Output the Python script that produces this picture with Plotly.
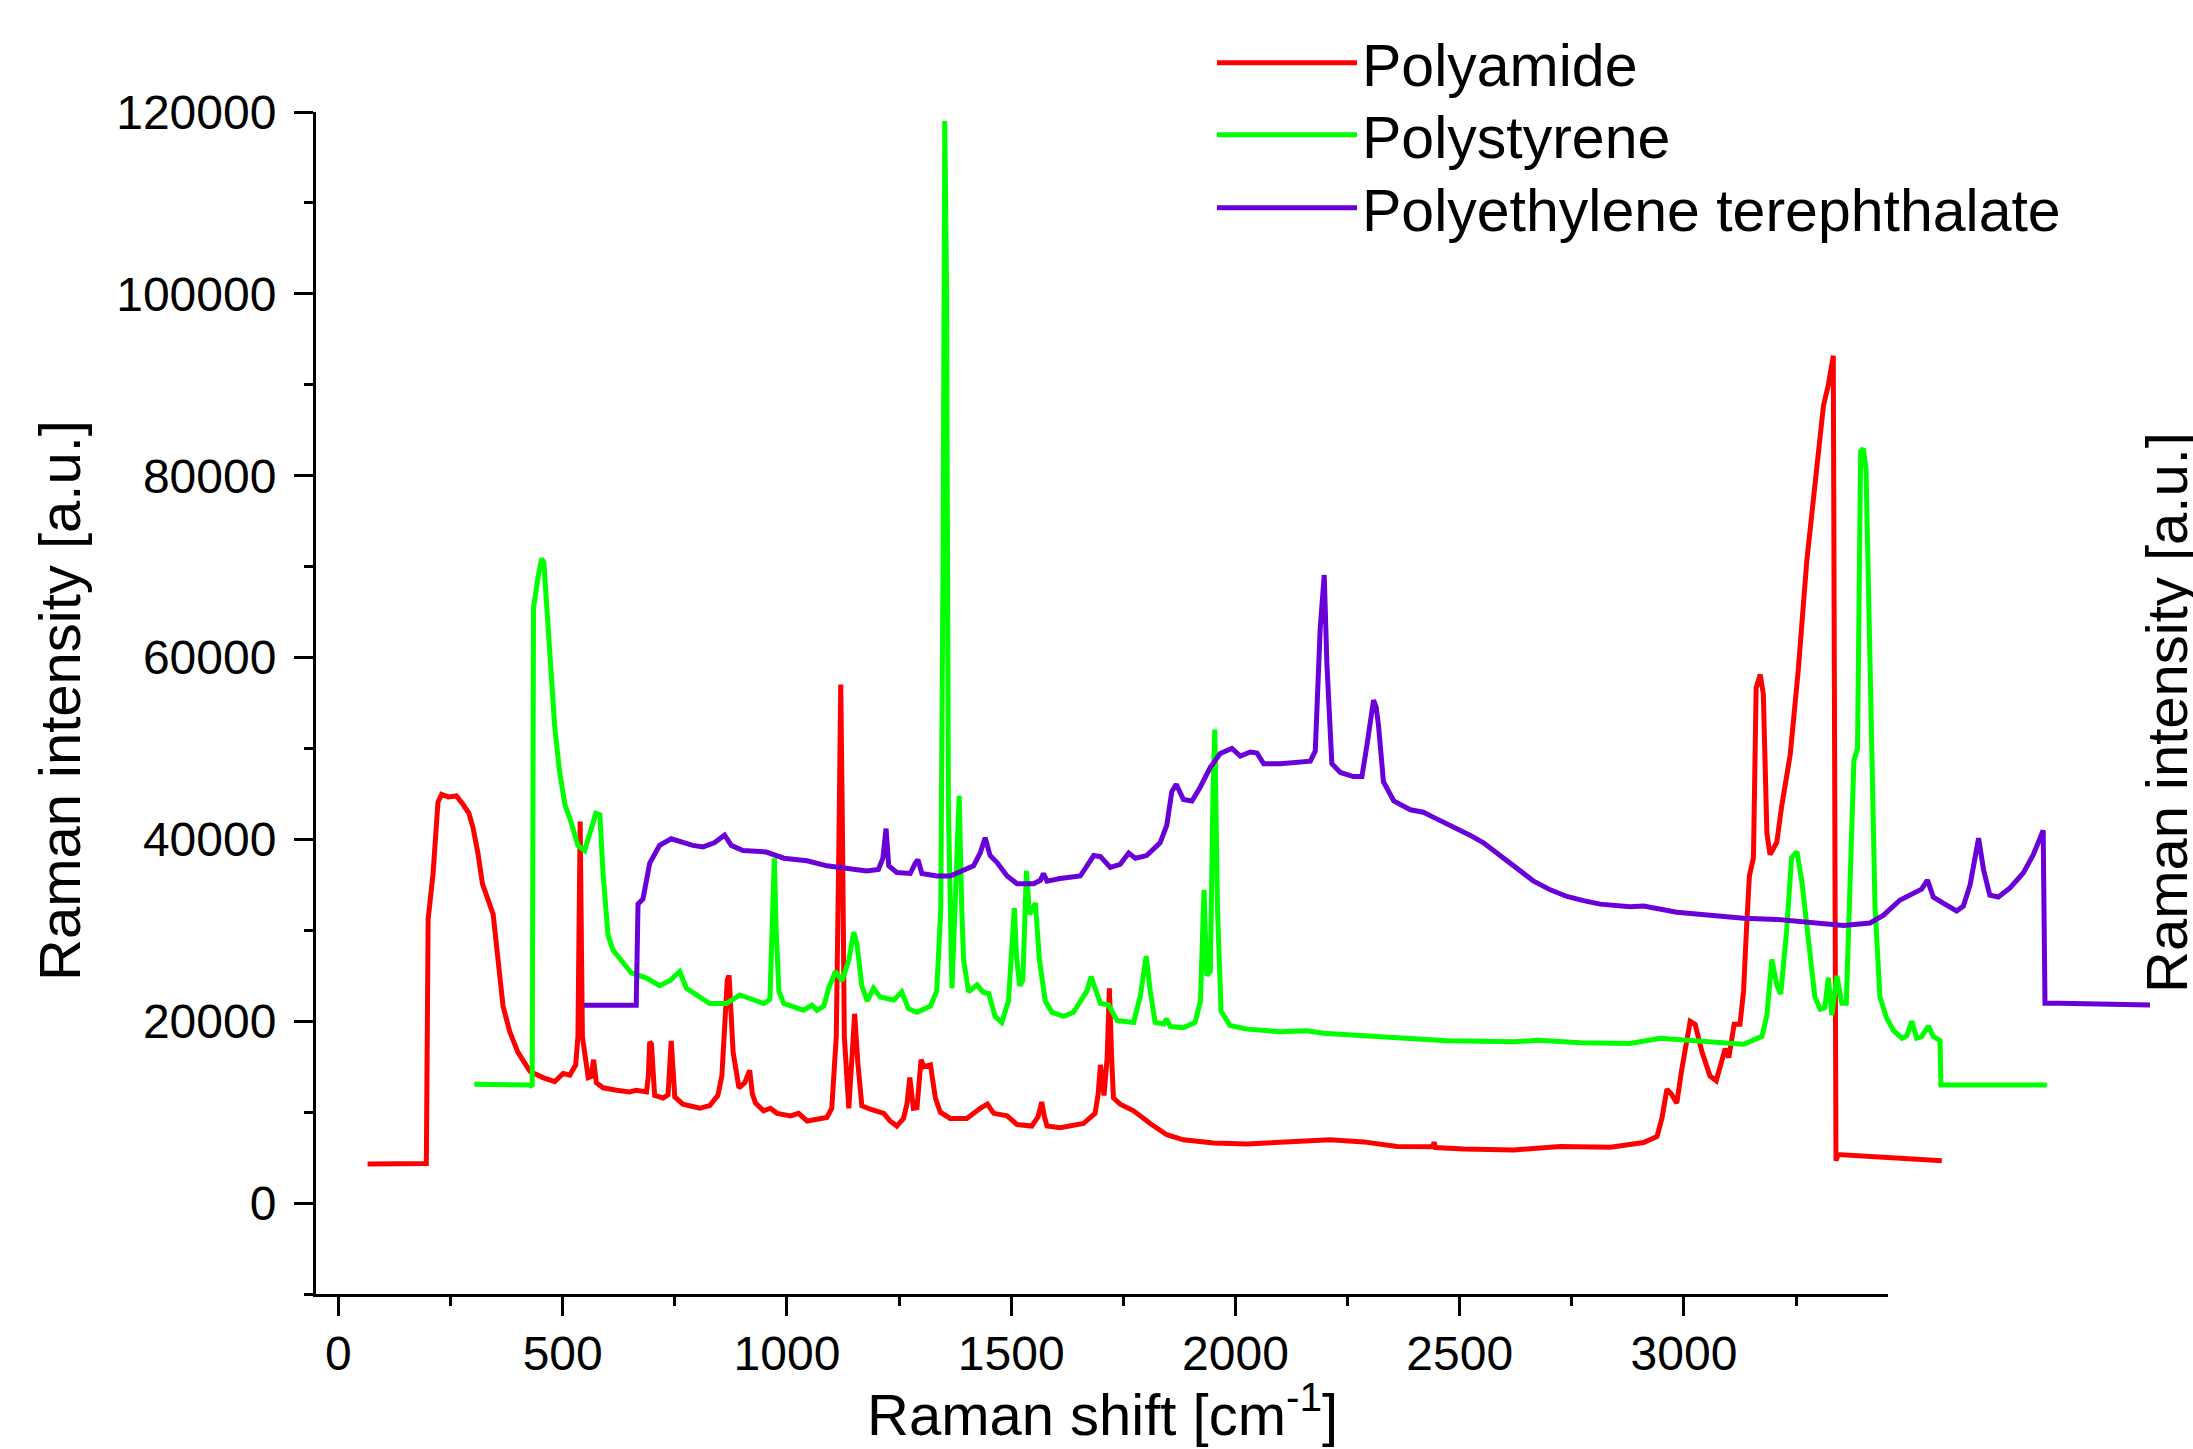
import plotly.graph_objects as go

# ---------------- data ----------------
series_names = ["Polyamide", "Polystyrene", "Polyethylene terephthalate"]
series_colors = ["#FF0000", "#00FF00", "#6A00D8"]

polyamide_x = [65, 130, 196, 200, 211, 222, 230, 245, 263, 278, 291, 300, 311, 321, 334, 345, 356, 367, 382, 400,
               427, 456, 482, 501, 516, 529, 534, 539, 544, 549, 557, 563, 569, 575, 590, 620, 649, 664, 687, 691,
               694, 698, 702, 705, 724, 735, 742, 746, 750, 768, 806, 828, 846, 855, 861, 867, 871, 876, 880, 893,
               906, 917, 923, 930, 948, 963, 978, 1008, 1026, 1045, 1089, 1100, 1110, 1116, 1120, 1124, 1128, 1138,
               1145, 1151, 1158, 1167, 1186, 1216, 1230, 1245, 1260, 1268, 1274, 1282, 1290, 1299, 1306, 1320, 1331,
               1342, 1364, 1401, 1431, 1447, 1461, 1491, 1513, 1546, 1560, 1568, 1574, 1580, 1609, 1661, 1687, 1694,
               1699, 1707, 1714, 1719, 1724, 1728, 1743, 1773, 1810, 1847, 1884, 1921, 1951, 2026, 2100, 2211, 2286,
               2360, 2440, 2443, 2446, 2509, 2620, 2724, 2836, 2910, 2940, 2951, 2962, 2972, 2984, 2995, 3014, 3025,
               3040, 3058, 3072, 3084, 3092, 3100, 3112, 3125, 3133, 3140, 3146, 3155, 3161, 3170, 3177, 3185, 3192,
               3207, 3218, 3237, 3255, 3274, 3289, 3300, 3311, 3322, 3333, 3339, 3344, 3575]
polyamide_y = [4300, 4350, 4350, 31200, 36250, 44100, 44950, 44670, 44780, 43830, 42870, 41300, 38500, 35130, 33330,
               31760, 26710, 21660, 18850, 16610, 14480, 13800, 13350, 14250, 14080, 15200, 18290, 41970, 18290, 16160,
               13800, 13900, 15770, 13240, 12680, 12400, 12230, 12400, 12230, 14000, 17730, 17500, 13000, 11840, 11560,
               11900, 17840, 15000, 11670, 10880, 10430, 10720, 11840, 14000, 18290, 24500, 25030, 20000, 16610, 12680,
               13240, 14600, 12000, 10990, 10150, 10430, 9870, 9590, 9870, 9030, 9420, 10430, 18290, 40000, 57020,
               40000, 18290, 10430, 15480, 20820, 15480, 10710, 10320, 9870, 9030, 8470, 9310, 11000, 13800, 10430,
               10500, 15770, 15000, 15200, 11560, 9990, 9310, 9310, 10430, 10880, 9870, 9590, 8640, 8470, 9500, 11110,
               9500, 8470, 8300, 8750, 9870, 12000, 15200, 11840, 16000, 23620, 16000, 11560, 10880, 10150, 8750, 7520,
               6960, 6790, 6620, 6510, 6730, 6960, 6730, 6230, 6200, 6700, 6100, 5950, 5840, 6230, 6130, 6660, 7330,
               9330, 12530, 12000, 10990, 14660, 19990, 19660, 16660, 13990, 13460, 15330, 16990, 16000, 19660, 19660,
               23330, 30660, 35990, 37990, 56660, 58130, 55990, 40660, 38330, 39660, 43660, 49330, 58660, 70660, 77330,
               81990, 87660, 89990, 93200, 4660, 5330, 4660]

polystyrene_x = [303, 427, 432, 435, 445, 453, 458, 467, 475, 482, 493, 505, 519, 534, 549, 560, 574, 583, 590, 601,
                 612, 635, 653, 687, 716, 739, 761, 776, 798, 828, 865, 895, 917, 948, 962, 968, 972, 976, 982, 993,
                 1037, 1056, 1067, 1082, 1093, 1108, 1123, 1138, 1149, 1156, 1167, 1179, 1193, 1208, 1238, 1256, 1271,
                 1290, 1320, 1334, 1343, 1348, 1352, 1356, 1360, 1368, 1376, 1384, 1390, 1394, 1405, 1424, 1437, 1450,
                 1464, 1479, 1494, 1502, 1507, 1512, 1519, 1526, 1534, 1541, 1554, 1563, 1576, 1591, 1617, 1639, 1654,
                 1669, 1678, 1688, 1699, 1717, 1736, 1773, 1788, 1801, 1810, 1821, 1840, 1846, 1855, 1884, 1910, 1922,
                 1930, 1936, 1944, 1950, 1954, 1960, 1968, 1988, 2026, 2100, 2159, 2196, 2323, 2471, 2620, 2675, 2769,
                 2880, 2947, 3021, 3096, 3133, 3174, 3185, 3196, 3207, 3216, 3229, 3240, 3252, 3263, 3278, 3292, 3304,
                 3314, 3322, 3330, 3341, 3352, 3362, 3370, 3379, 3387, 3394, 3400, 3406, 3415, 3426, 3437, 3452, 3467,
                 3486, 3497, 3508, 3519, 3530, 3545, 3556, 3571, 3573, 3809]
polystyrene_y = [13070, 13000, 12800, 65430, 68800, 70880, 70500, 64310, 57580, 52530, 47470, 43830, 41860, 39340,
                 38780, 40740, 42870, 42700, 36250, 29520, 27830, 26430, 25310, 24750, 23900, 24460, 25470, 23620,
                 22890, 21940, 21940, 22890, 22500, 21940, 22400, 30000, 37930, 30000, 23340, 21940, 21210, 21770,
                 21210, 21660, 23620, 25470, 24460, 26710, 29800, 28500, 23900, 22220, 23620, 22660, 22330, 23230,
                 21380, 20980, 21660, 23340, 32320, 70000, 119000, 100000, 43540, 23620, 33000, 44780, 32000, 26710,
                 23230, 24010, 23200, 23060, 20540, 19870, 22220, 28000, 32430, 27000, 23900, 24500, 36530, 31760,
                 33000, 26710, 22220, 20980, 20540, 20980, 22220, 23340, 24910, 23400, 21940, 21800, 20090, 19870,
                 22780, 27160, 23340, 19870, 19690, 20260, 19410, 19300, 19870, 22220, 34450, 25030, 25500, 45000,
                 52080, 32320, 21100, 19530, 19130, 18850, 18960, 18690, 18290, 17840, 17730, 17900, 17620, 17560,
                 18130, 17860, 17660, 17460, 18330, 20660, 26790, 23990, 22990, 29990, 37990, 38660, 35330, 29330,
                 22660, 21330, 21500, 24790, 20660, 24990, 21990, 21990, 35990, 48660, 49990, 82660, 82990, 80660,
                 59330, 32660, 22660, 20330, 18990, 18130, 18400, 19990, 18130, 18300, 19460, 18330, 17860, 12990,
                 12990]

pet_x = [547, 664, 668, 679, 694, 716, 742, 768, 790, 813, 838, 861, 876, 902, 954, 993, 1045, 1089, 1141, 1178, 1204,
         1214, 1221, 1227, 1245, 1275, 1286, 1292, 1301, 1334, 1364, 1394, 1416, 1431, 1442, 1453, 1468, 1491, 1513,
         1550, 1565, 1572, 1580, 1609, 1654, 1669, 1684, 1699, 1721, 1743, 1762, 1777, 1802, 1832, 1847, 1858, 1868,
         1884, 1903, 1922, 1944, 1966, 1992, 2011, 2033, 2048, 2063, 2100, 2167, 2178, 2189, 2198, 2204, 2215, 2234,
         2263, 2282, 2293, 2302, 2308, 2314, 2319, 2330, 2353, 2390, 2419, 2442, 2479, 2523, 2553, 2590, 2627, 2665,
         2702, 2739, 2776, 2813, 2880, 2910, 2984, 3058, 3133, 3207, 3281, 3356, 3415, 3445, 3482, 3512, 3530, 3543,
         3556, 3578, 3608, 3623, 3638, 3657, 3668, 3682, 3701, 3727, 3757, 3779, 3801, 3805, 3838, 4039]
pet_y = [21770, 21770, 32880, 33440, 37370, 39340, 40070, 39620, 39340, 39170, 39620, 40460, 39340, 38780, 38610,
         37930, 37650, 37090, 36810, 36530, 36700, 37930, 41190, 37090, 36360, 36250, 37370, 37770, 36250, 35970,
         35970, 36700, 37090, 38500, 40180, 38220, 37480, 35970, 35130, 35130, 35500, 36250, 35410, 35690, 35970,
         37090, 38220, 38100, 36920, 37260, 38500, 37930, 38220, 39620, 41580, 45230, 46070, 44390, 44220, 45790,
         47920, 49440, 50000, 49160, 49610, 49500, 48320, 48320, 48600, 49720, 63190, 69080, 59260, 48320, 47360,
         46910, 46910, 50280, 54000, 55330, 54500, 52530, 46350, 44220, 43260, 42990, 42420, 41580, 40460, 39620,
         38220, 36810, 35410, 34450, 33720, 33270, 32880, 32600, 32660, 31990, 31660, 31330, 31200, 30800, 30530,
         30800, 31660, 33330, 34130, 34530, 35530, 33660, 32990, 32130, 32660, 34990, 40130, 36660, 33860, 33660,
         34660, 36330, 38330, 40990, 21990, 21990, 21790]

x_major_ticks = [0, 500, 1000, 1500, 2000, 2500, 3000]
x_minor_ticks = [250, 750, 1250, 1750, 2250, 2750, 3250]
y_major_ticks = [0, 20000, 40000, 60000, 80000, 100000, 120000]
y_minor_ticks = [-10000, 10000, 30000, 50000, 70000, 90000, 110000]
x_title = "Raman shift [cm<sup>-1</sup>]"
y_title = "Raman intensity [a.u.]"

# ---------------- layout geometry ----------------
W, H = 2193, 1449
AX_L, AX_R, AX_T, AX_B = 316, 1888, 112, 1294
x_range = [-50, 3455]
y_range = [-10000, 120000]
px_per_unit = (AX_R - AX_L) / (x_range[1] - x_range[0])
x2_range = [x_range[0], x_range[0] + (W - AX_L) / px_per_unit]

FONT = "Liberation Sans, Arial, sans-serif"
legend_rows_px = [63, 135, 208]
legend_keys = ["legend", "legend2", "legend3"]

fig = go.Figure()
# empty trace on the visible axes so that the x axis is drawn
fig.add_trace(go.Scatter(x=[None], y=[None], xaxis="x", yaxis="y", showlegend=False,
                         hoverinfo="skip", mode="lines"))
for name, color, xs, ys, lg in zip(series_names, series_colors,
                                   [polyamide_x, polystyrene_x, pet_x],
                                   [polyamide_y, polystyrene_y, pet_y], legend_keys):
    fig.add_trace(go.Scatter(x=xs, y=ys, mode="lines", name=name,
                             line=dict(color=color, width=5),
                             xaxis="x2", yaxis="y", hoverinfo="skip", legend=lg))

axis_common = dict(showgrid=False, zeroline=False, showline=True, linecolor="black", linewidth=3,
                   ticks="outside", ticklen=19, tickwidth=3, tickcolor="black",
                   tickfont=dict(family=FONT, size=48, color="black"), automargin=False)

legend_layout = {}
for lg, ypx in zip(legend_keys, legend_rows_px):
    legend_layout[lg] = dict(x=1212 / W, y=1 - ypx / H, xanchor="left", yanchor="middle",
                             font=dict(family=FONT, size=59, color="black"),
                             bgcolor="rgba(0,0,0,0)", itemwidth=140)

fig.update_layout(
    width=W, height=H,
    margin=dict(l=0, r=0, t=0, b=0, autoexpand=False),
    paper_bgcolor="white", plot_bgcolor="rgba(0,0,0,0)",
    font=dict(family=FONT, color="black"),
    xaxis=dict(domain=[AX_L / W, AX_R / W], range=x_range, anchor="y",
               tickmode="array", tickvals=x_major_ticks, ticklabelstandoff=-4,
               minor=dict(tickmode="array", tickvals=x_minor_ticks, ticks="outside", ticklen=9,
                          tickwidth=3, tickcolor="black"),
               **axis_common),
    xaxis2=dict(domain=[AX_L / W, 1.0], range=x2_range, anchor="y", visible=False,
                showgrid=False, zeroline=False),
    yaxis=dict(domain=[1 - AX_B / H, 1 - AX_T / H], range=y_range, anchor="x",
               tickmode="array", tickvals=y_major_ticks, tickformat="d", ticklabelstandoff=8,
               minor=dict(tickmode="array", tickvals=y_minor_ticks, ticks="outside", ticklen=9,
                          tickwidth=3, tickcolor="black"),
               **axis_common),
    showlegend=True,
    annotations=[
        dict(text=x_title, xref="paper", yref="paper", x=(AX_L + AX_R) / 2 / W, y=1 - 1410 / H,
             xanchor="center", yanchor="middle", showarrow=False,
             font=dict(family=FONT, size=58, color="black")),
        dict(text=y_title, xref="paper", yref="paper", x=59 / W, y=1 - 701 / H, textangle=-90,
             xanchor="center", yanchor="middle", showarrow=False,
             font=dict(family=FONT, size=58, color="black")),
        dict(text=y_title, xref="paper", yref="paper", x=2166 / W, y=1 - 713 / H, textangle=-90,
             xanchor="center", yanchor="middle", showarrow=False,
             font=dict(family=FONT, size=58, color="black")),
    ],
    **legend_layout,
)

fig.write_html("out.html")
